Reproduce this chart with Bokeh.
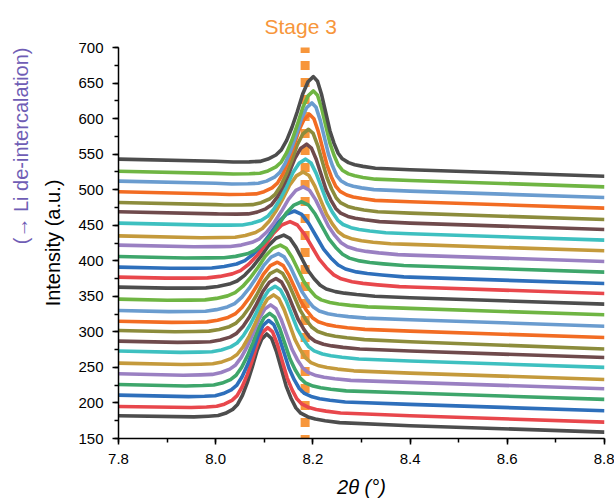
import numpy as np
from bokeh.plotting import figure
from bokeh.models import Range1d, SingleIntervalTicker, PrintfTickFormatter, Title
from bokeh.embed import file_html
from bokeh.resources import INLINE

X_MIN, X_MAX = 7.8, 8.8
Y_MIN, Y_MAX = 150, 700
STAGE3_X = 8.184

# ---- data (curves listed bottom -> top) ----
# baseline values at 2theta = 7.8, 8.0, 8.4, 8.8
base_7p8 = [182, 195, 211, 226, 241, 256, 273, 287, 302, 315, 330, 346, 363,
            377, 391, 406, 422, 435, 453, 469, 482, 497, 512, 526, 543]
base_8p0 = [180, 193, 208, 223, 238, 253, 270, 284, 299, 312, 327, 343, 360,
            374, 388, 403, 419, 432, 450, 466, 479, 494, 509, 523, 540]
base_8p4 = [168, 182, 198, 214, 229, 242, 259, 273, 286, 301, 317, 333, 348,
            363, 377, 393, 408, 423, 438, 453, 467, 483, 498, 513, 528]
base_8p8 = [159, 173, 189, 205, 220, 233, 250, 264, 276, 292, 308, 324, 339,
            354, 368, 384, 399, 414, 429, 444, 458, 474, 489, 504, 519]
# peak maxima
peak_x = [8.105, 8.107, 8.109, 8.111, 8.113, 8.119, 8.122, 8.124, 8.126, 8.127,
          8.129, 8.133, 8.140, 8.153, 8.162, 8.177, 8.180, 8.180, 8.185, 8.187,
          8.191, 8.193, 8.198, 8.201, 8.201]
peak_y = [297, 306, 316, 326, 338, 352, 364, 375, 387, 398, 410, 422, 436,
          455, 470, 483, 504, 525, 543, 564, 585, 606, 622, 639, 659]
# peak width relative to the bottom pattern (left / right flank)
width_left = [1.0, 1.05, 1.1, 1.15, 1.2, 1.25, 1.3, 1.35, 1.4, 1.45, 1.5, 1.55,
              1.6, 1.7, 1.7, 1.6, 1.5, 1.4, 1.3, 1.2, 1.15, 1.1, 1.1, 1.1, 1.1]
width_right = [1.0, 1.0, 1.05, 1.05, 1.1, 1.1, 1.15, 1.15, 1.2, 1.2, 1.2, 1.2,
               1.25, 1.5, 1.5, 1.4, 1.3, 1.2, 1.1, 1.0, 0.95, 0.9, 0.85, 0.85, 0.85]
# peak profile of the bottom pattern: offset in 2theta, fraction of peak height
profile_offset = [-0.15, -0.12, -0.10, -0.085, -0.07, -0.06, -0.05, -0.04, -0.03,
                  -0.02, -0.01, 0.0, 0.01, 0.02, 0.03, 0.04, 0.05, 0.06, 0.07,
                  0.085, 0.10, 0.12, 0.15]
profile_frac = [0.0, 0.01, 0.02, 0.05, 0.10, 0.16, 0.27, 0.42, 0.60, 0.80, 0.94,
                1.0, 0.95, 0.80, 0.60, 0.40, 0.26, 0.15, 0.09, 0.05, 0.03, 0.015, 0.0]

palette = ["#4d4d4d", "#e8474c", "#2e6fbb", "#3ea66b", "#9a80c2", "#c49a3c",
           "#3ec0c0", "#6f4a4c", "#8c8c3c", "#f26c23", "#6a9ccf", "#6fb543"]

FONT = "Liberation Sans"

p = figure(width=614, height=500,
           x_range=Range1d(X_MIN, X_MAX), y_range=Range1d(Y_MIN, Y_MAX),
           output_backend="svg", toolbar_location=None,
           min_border_left=116, min_border_right=10,
           min_border_top=47, min_border_bottom=61)
p.xgrid.visible = False
p.ygrid.visible = False
p.outline_line_color = None
p.background_fill_color = "white"
p.border_fill_color = "white"

# stage 3 reference line
p.line([STAGE3_X, STAGE3_X], [Y_MAX + 5, Y_MIN], line_color="#f7963b",
       line_width=9, line_dash="9 8", line_cap="butt")

knots = [7.8, 8.0, 8.4, 8.8]
offs = np.array(profile_offset)
frac = np.array(profile_frac)
for i in range(len(peak_x)):
    base = [base_7p8[i], base_8p0[i], base_8p4[i], base_8p8[i]]
    w = np.where(offs < 0, width_left[i], width_right[i])
    xs_pk = peak_x[i] + offs * w
    h = peak_y[i] - np.interp(peak_x[i], knots, base)
    before = [k for k in knots if k < xs_pk[0]]
    after = [k for k in knots if k > xs_pk[-1]]
    xs = np.concatenate([before, xs_pk, after])
    fr = np.concatenate([[0.0] * len(before), frac, [0.0] * len(after)])
    ys = np.interp(xs, knots, base) + h * fr
    p.line(xs, ys, line_color=palette[i % len(palette)], line_width=3.6,
           line_join="round")

for ax in (p.xaxis[0], p.yaxis[0]):
    ax.axis_line_width = 1.5
    ax.axis_line_color = "black"
    ax.major_tick_line_width = 1.5
    ax.minor_tick_line_width = 1.5
    ax.major_tick_line_color = "black"
    ax.minor_tick_line_color = "black"
    ax.major_tick_in = 0
    ax.major_tick_out = 6
    ax.minor_tick_in = 0
    ax.minor_tick_out = 4
    ax.major_label_text_font = FONT
    ax.major_label_text_font_size = "15px"
    ax.major_label_text_color = "black"
    ax.major_label_standoff = 9
    ax.axis_label_text_font = FONT
    ax.axis_label_text_font_size = "20px"
    ax.axis_label_text_color = "black"

p.xaxis.ticker = SingleIntervalTicker(interval=0.2, num_minor_ticks=2)
p.yaxis.ticker = SingleIntervalTicker(interval=50, num_minor_ticks=2)
p.xaxis.formatter = PrintfTickFormatter(format="%.1f")
p.yaxis.formatter = PrintfTickFormatter(format="%d")

p.yaxis.axis_label = "Intensity (a.u.)"
p.yaxis.axis_label_text_font_style = "normal"
p.yaxis.axis_label_standoff = 11
p.xaxis.axis_label = "2\u03b8 (\u00b0)"
p.xaxis.axis_label_text_font_style = "italic"
p.xaxis.axis_label_standoff = 9

p.add_layout(Title(text="(\u2192 Li de-intercalation)", align="right",
                   text_color="#6f5db5", text_font=FONT, text_font_size="20px",
                   text_font_style="normal", standoff=15, offset=0), "left")

# use the figure's own title for the stage label
p.title.text = "Stage 3"
p.title.align = "left"
p.title.offset = 146
p.title.vertical_align = "top"
p.title.text_color = "#f7963b"
p.title.text_font = FONT
p.title.text_font_size = "21px"
p.title.text_font_style = "normal"
p.title.standoff = 16

open("out.html", "w").write(file_html(p, INLINE))
